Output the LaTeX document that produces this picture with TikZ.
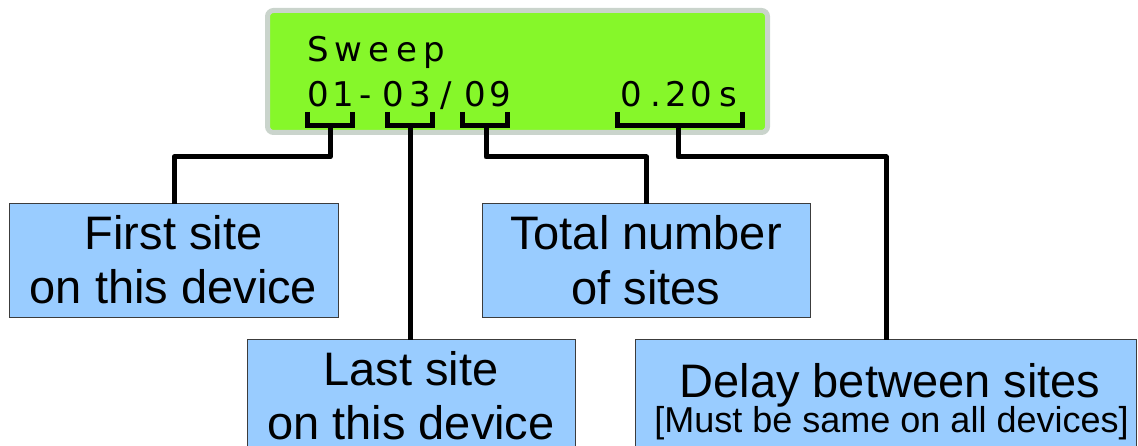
\documentclass[tikz,border=0pt]{standalone}
\usepackage{fontspec}
\setmainfont{Liberation Sans}
\newfontfamily\lcdfont{DejaVu Sans}
\definecolor{lcdgreen}{RGB}{134,247,42}
\definecolor{lcdrim}{RGB}{202,212,204}
\definecolor{boxblue}{RGB}{153,204,255}
\definecolor{boxline}{RGB}{60,60,60}
\tikzset{
  lcdch/.style={anchor=base, inner sep=0pt, font=\lcdfont\fontsize{34}{34}\selectfont},
  brk/.style={line width=5pt, black, line join=miter},
  conn/.style={line width=5pt, black, line join=round},
  infobox/.style={draw=boxline, line width=1.2pt, fill=boxblue, anchor=north west, inner sep=0pt},
  bigtxt/.style={anchor=base, inner sep=0pt, font=\fontsize{47}{47}\selectfont},
  smalltxt/.style={anchor=base, inner sep=0pt, font=\fontsize{36}{36}\selectfont},
}
\begin{document}
\begin{tikzpicture}[x=1pt, y=-1pt]
\useasboundingbox (0,0) rectangle (1138,446);
% LCD
\draw[lcdrim, line width=5pt, fill=lcdgreen, rounded corners=6pt] (267.5,10.5) rectangle (767.5,132.5);
\foreach \c/\x [count=\i] in {S/318, w/348, e/379, e/407, p/434}
  \node[lcdch] (ra\i) at (\x,62) {\c};
\foreach \c/\x [count=\i] in {0/318, 1/343, -/366, 0/393, 3/420, {/}/446, 0/475, 9/500, 0/631, ./656, 2/676, 0/701, s/728}
  \node[lcdch] (rb\i) at (\x,107) {\c};
% brackets
\draw[brk] (307.5,112) -- (307.5,125.5) -- (352.5,125.5) -- (352.5,112);
\draw[brk] (387.5,112) -- (387.5,125.5) -- (432.5,125.5) -- (432.5,112);
\draw[brk] (462.5,112) -- (462.5,125.5) -- (507.5,125.5) -- (507.5,112);
\draw[brk] (617.5,112) -- (617.5,125.5) -- (742.5,125.5) -- (742.5,112);
\coordinate (k1) at (330,125.5);
\coordinate (k2) at (410,125.5);
\coordinate (k3) at (486,125.5);
\coordinate (k4) at (678,125.5);
% boxes
\node[infobox, minimum width=329pt, minimum height=114pt] (b1) at (9,203) {};
\node[infobox, minimum width=328pt, minimum height=114pt] (b2) at (482,203) {};
\node[infobox, minimum width=328pt, minimum height=140pt] (b3) at (247,339) {};
\node[infobox, minimum width=501pt, minimum height=140pt] (b4) at (635,339) {};
% connectors
\draw[conn] (k1) -- ++(0,31.5) -| ([yshift=-0.6pt]b1.north);
\draw[conn] (k2) -- ([yshift=-0.6pt]k2 |- b3.north);
\draw[conn] (k3) -- ++(0,31.5) -| ([yshift=-0.6pt]b2.north);
\draw[conn] (k4) -- ++(0,31.5) -| ([yshift=-0.6pt]b4.north);
% texts
\node[bigtxt] (t1a) at (173.5,250) {First site};
\node[bigtxt] (t1b) at (173.5,304) {on this device};
\node[bigtxt] (t2a) at (646,250) {Total number};
\node[bigtxt] (t2b) at (646,305) {of sites};
\node[bigtxt] (t3a) at (411,385) {Last site};
\node[bigtxt] (t3b) at (411,439) {on this device};
\node[bigtxt] (t4a) at (890,397) {Delay between sites};
\node[smalltxt] (t4b) at (891.5,432) {[Must be same on all devices]};
\end{tikzpicture}
\end{document}
